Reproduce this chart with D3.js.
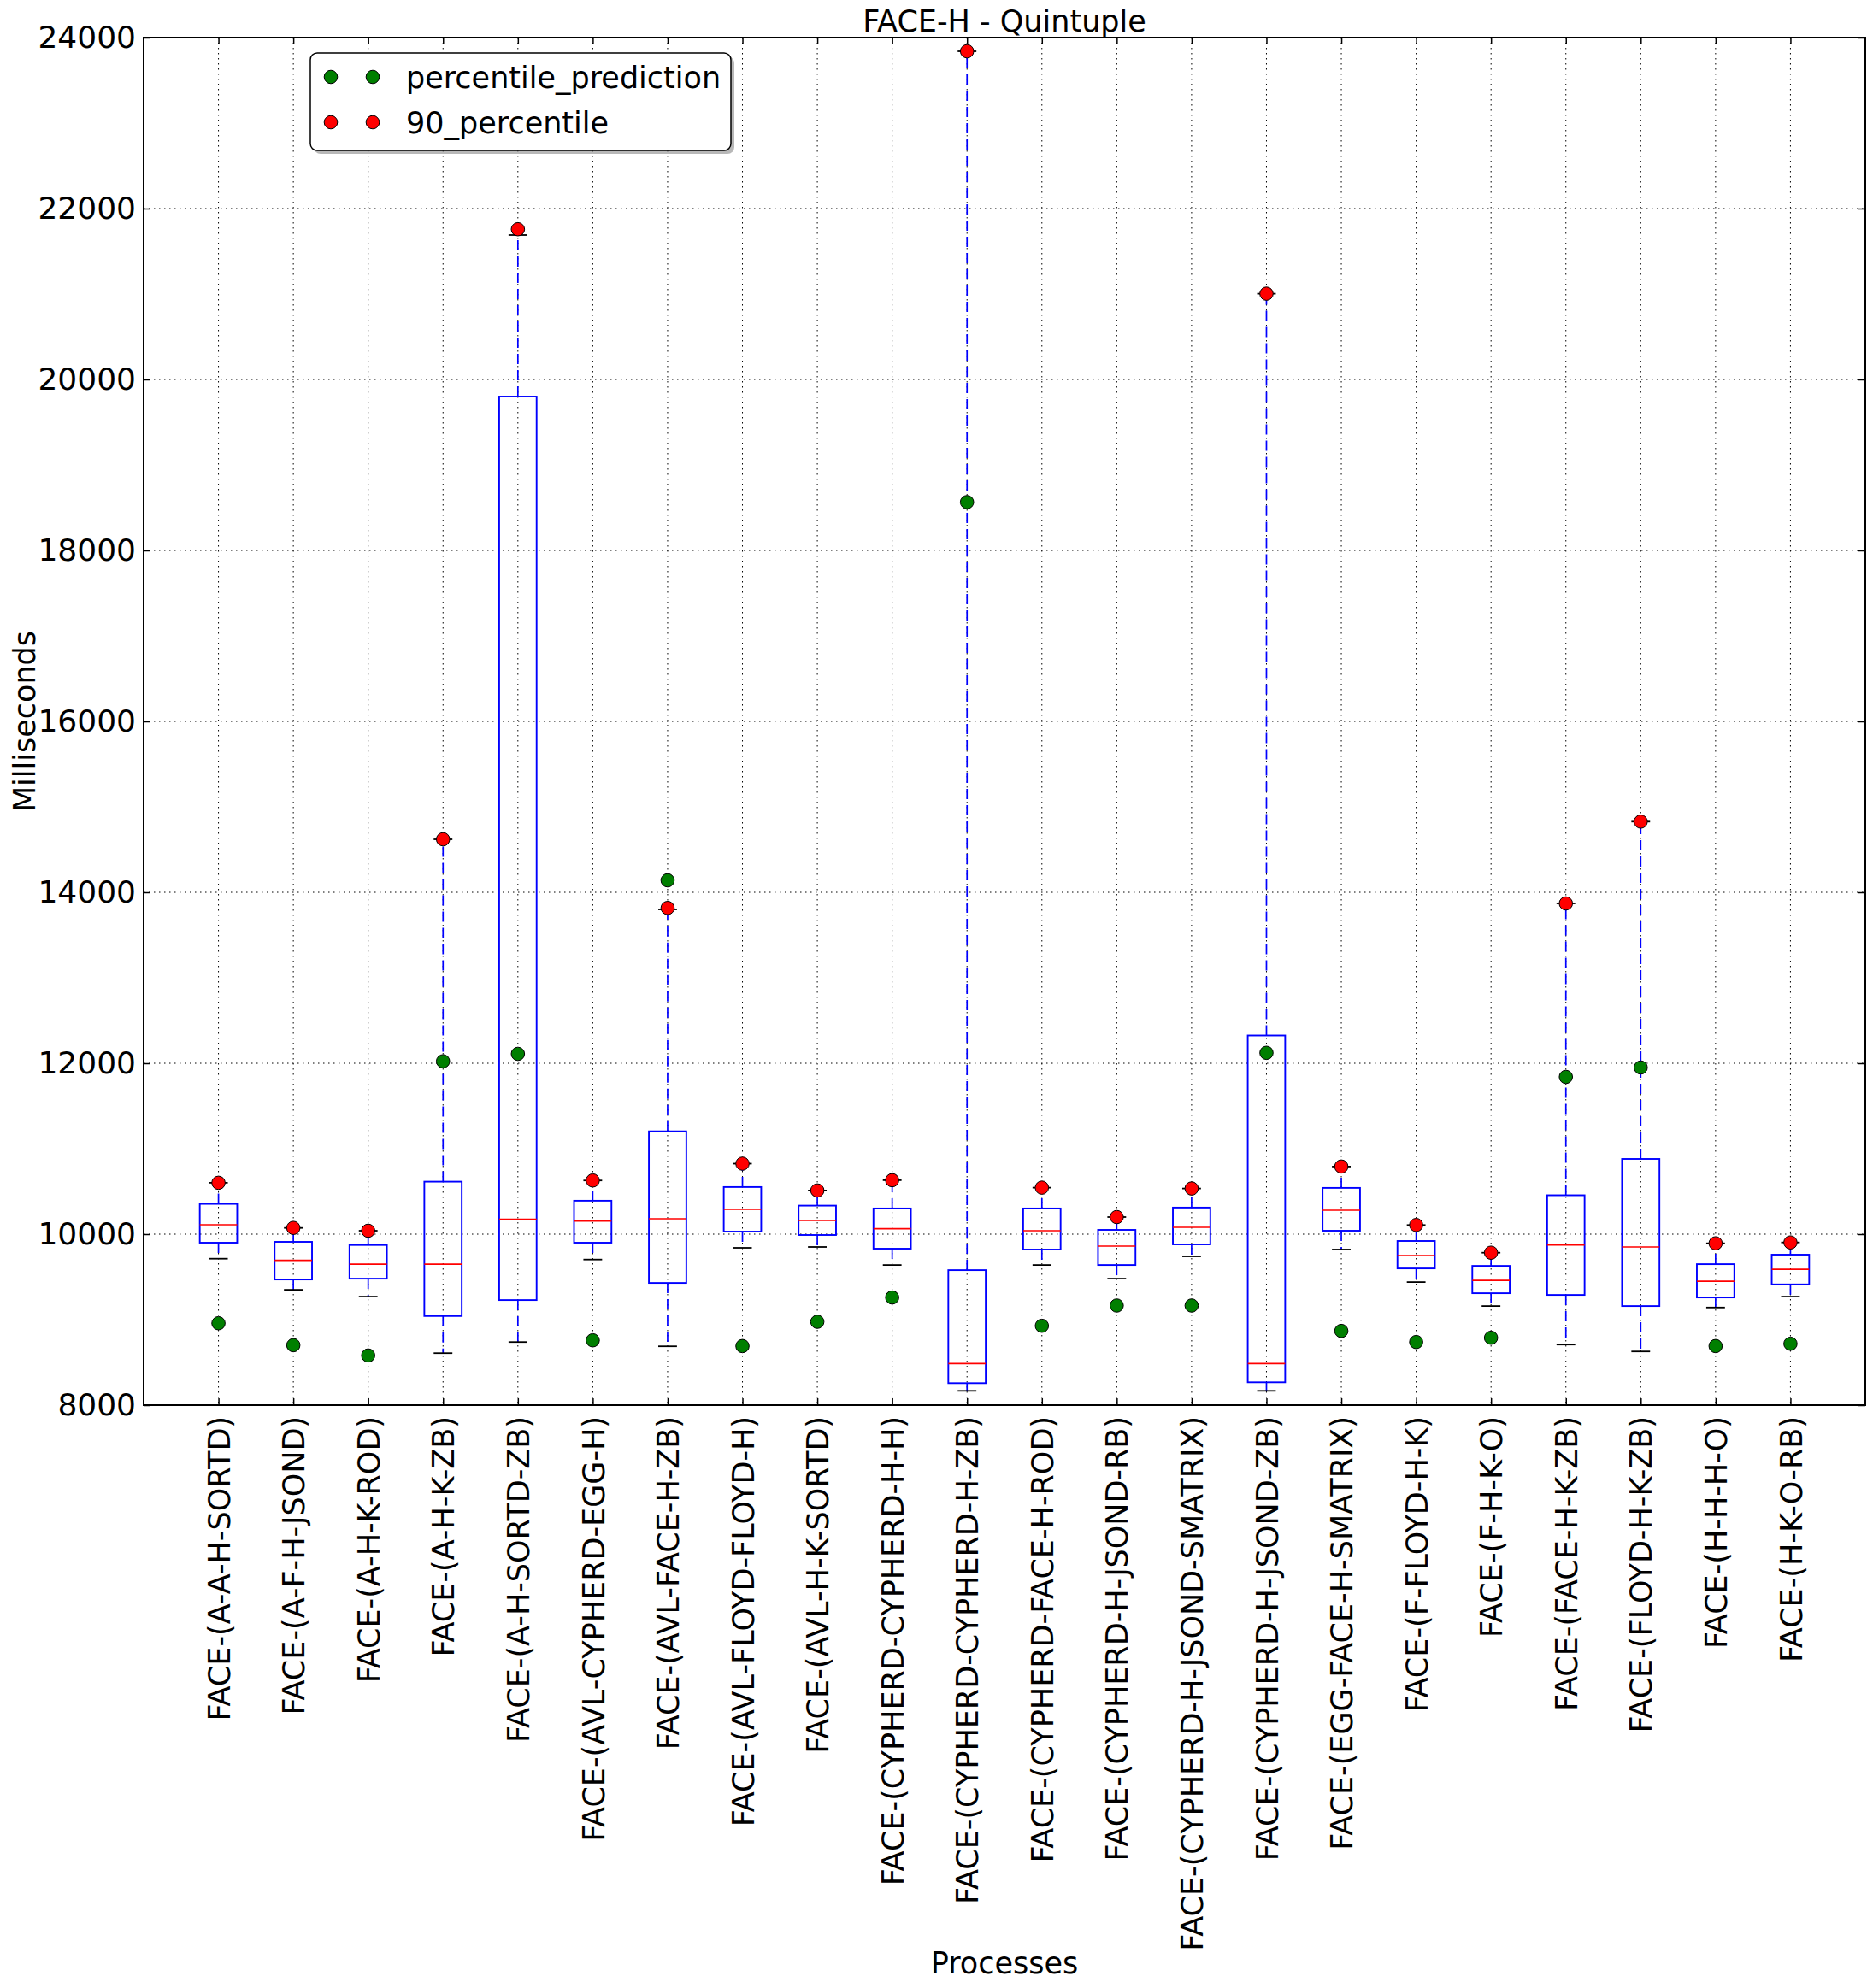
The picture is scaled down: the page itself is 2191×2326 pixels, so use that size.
<!DOCTYPE html>
<html>
<head>
<meta charset="utf-8">
<script src="https://cdn.jsdelivr.net/npm/d3@7"></script>
<style>
  html, body { margin: 0; padding: 0; background: #ffffff; }
  svg { display: block; }
  text { font-family: "DejaVu Sans", sans-serif; fill: #000; }
</style>
</head>
<body>
<svg id="chart" width="2191" height="2326"></svg>
<script>
const categories = [
  "FACE-(A-A-H-SORTD)", "FACE-(A-F-H-JSOND)", "FACE-(A-H-K-ROD)", "FACE-(A-H-K-ZB)",
  "FACE-(A-H-SORTD-ZB)", "FACE-(AVL-CYPHERD-EGG-H)", "FACE-(AVL-FACE-H-ZB)",
  "FACE-(AVL-FLOYD-FLOYD-H)", "FACE-(AVL-H-K-SORTD)", "FACE-(CYPHERD-CYPHERD-H-H)",
  "FACE-(CYPHERD-CYPHERD-H-ZB)", "FACE-(CYPHERD-FACE-H-ROD)", "FACE-(CYPHERD-H-JSOND-RB)",
  "FACE-(CYPHERD-H-JSOND-SMATRIX)", "FACE-(CYPHERD-H-JSOND-ZB)", "FACE-(EGG-FACE-H-SMATRIX)",
  "FACE-(F-FLOYD-H-K)", "FACE-(F-H-K-O)", "FACE-(FACE-H-K-ZB)", "FACE-(FLOYD-H-K-ZB)",
  "FACE-(H-H-H-O)", "FACE-(H-K-O-RB)"
];
const whiskerLow  = [9713, 9349, 9269, 8608, 8738, 9703, 8688, 9840, 9850, 9639, 8167, 9639, 9479, 9740, 8167, 9820, 9439, 9159, 8708, 8628, 9142, 9269];
const q1          = [9900, 9469, 9479, 9042, 9229, 9900, 9429, 10030, 9990, 9830, 8257, 9820, 9639, 9880, 8267, 10040, 9599, 9309, 9289, 9159, 9259, 9412];
const median      = [10110, 9693, 9649, 9649, 10174, 10154, 10180, 10290, 10160, 10063, 8487, 10040, 9860, 10080, 8487, 10280, 9750, 9459, 9873, 9850, 9449, 9589];
const q3          = [10354, 9910, 9873, 10614, 19800, 10391, 11203, 10551, 10334, 10301, 9579, 10301, 10050, 10311, 12325, 10541, 9920, 9629, 10455, 10880, 9649, 9760];
const whiskerHigh = [10601, 10073, 10040, 14620, 21690, 10628, 13800, 10825, 10511, 10631, 23840, 10544, 10200, 10534, 21004, 10791, 10107, 9783, 13870, 14827, 9893, 9903];
const percentile90 = [10601, 10073, 10040, 14620, 21758, 10628, 13817, 10825, 10511, 10631, 23840, 10544, 10200, 10534, 21004, 10791, 10107, 9783, 13870, 14827, 9893, 9903];
const percentilePrediction = [8958, 8701, 8581, 12023, 12110, 8758, 14140, 8691, 8975, 9259, 18565, 8928, 9165, 9165, 12122, 8868, 8738, 8788, 11840, 11950, 8691, 8718];
const yTicks = [8000, 10000, 12000, 14000, 16000, 18000, 20000, 22000, 24000];
const legendLabels = ["percentile_prediction", "90_percentile"];
const legendColors = ["#007f00", "#ff0000"];

const svg = d3.select("#chart");
svg.append("rect").attr("width", 2191).attr("height", 2326).attr("fill", "#fff");

const L = 168, R = 2182, T = 44, B = 1644;
const x = d3.scaleLinear().domain([0, categories.length + 1]).range([L, R]);
const y = d3.scaleLinear().domain([8000, 24000]).range([B, T]);
const pos = categories.map((c, i) => i + 1);
const boxW = x(0.5) - x(0);
const capW = x(0.25) - x(0);

// grid
const grid = svg.append("g");
grid.selectAll(".vg").data(pos).enter().append("line")
  .attr("x1", d => x(d)).attr("x2", d => x(d)).attr("y1", T).attr("y2", B)
  .attr("stroke", "#000").attr("stroke-width", 1).attr("stroke-dasharray", "1.5,4.5");
grid.selectAll(".hg").data(yTicks).enter().append("line")
  .attr("x1", L).attr("x2", R).attr("y1", d => y(d)).attr("y2", d => y(d))
  .attr("stroke", "#000").attr("stroke-width", 1).attr("stroke-dasharray", "1.5,4.5");

// boxes
const boxes = svg.append("g");
categories.forEach((c, i) => {
  const cx = x(pos[i]);
  const g = boxes.append("g");
  g.append("line").attr("x1", cx).attr("x2", cx).attr("y1", y(q3[i])).attr("y2", y(whiskerHigh[i]))
    .attr("stroke", "#0000ff").attr("stroke-width", 1.7).attr("stroke-dasharray", "12,7");
  g.append("line").attr("x1", cx).attr("x2", cx).attr("y1", y(q1[i])).attr("y2", y(whiskerLow[i]))
    .attr("stroke", "#0000ff").attr("stroke-width", 1.7).attr("stroke-dasharray", "12,7");
  [whiskerHigh[i], whiskerLow[i]].forEach(v => {
    g.append("line").attr("x1", cx - capW / 2).attr("x2", cx + capW / 2).attr("y1", y(v)).attr("y2", y(v))
      .attr("stroke", "#000").attr("stroke-width", 1.8);
  });
  g.append("rect").attr("x", cx - boxW / 2).attr("width", boxW)
    .attr("y", y(q3[i])).attr("height", y(q1[i]) - y(q3[i]))
    .attr("fill", "none").attr("stroke", "#0000ff").attr("stroke-width", 1.9);
  g.append("line").attr("x1", cx - boxW / 2).attr("x2", cx + boxW / 2).attr("y1", y(median[i])).attr("y2", y(median[i]))
    .attr("stroke", "#ff0000").attr("stroke-width", 1.7);
});

// points
const pts = svg.append("g");
pts.selectAll(".pp").data(percentilePrediction).enter().append("circle")
  .attr("cx", (d, i) => x(pos[i])).attr("cy", d => y(d)).attr("r", 7.8)
  .attr("fill", legendColors[0]).attr("stroke", "#000").attr("stroke-width", 1);
pts.selectAll(".p90").data(percentile90).enter().append("circle")
  .attr("cx", (d, i) => x(pos[i])).attr("cy", d => y(d)).attr("r", 7.8)
  .attr("fill", legendColors[1]).attr("stroke", "#000").attr("stroke-width", 1);

// axes
const fontSize = 35;
const yAxis = svg.append("g").attr("transform", `translate(${L},0)`)
  .call(d3.axisLeft(y).tickValues(yTicks).tickSize(-8).tickPadding(9).tickFormat(d3.format("d")));
yAxis.select(".domain").remove();
yAxis.selectAll("line").attr("stroke", "#000").attr("stroke-width", 1.5);
yAxis.selectAll("text").style("font-size", "36px").style("font-family", "DejaVu Sans");

const yAxisR = svg.append("g").attr("transform", `translate(${R},0)`)
  .call(d3.axisRight(y).tickValues(yTicks).tickSize(-8).tickFormat(""));
yAxisR.select(".domain").remove();
yAxisR.selectAll("line").attr("stroke", "#000").attr("stroke-width", 1.5);

const xAxisT = svg.append("g").attr("transform", `translate(0,${T})`)
  .call(d3.axisTop(x).tickValues(pos).tickSize(-8).tickFormat(""));
xAxisT.select(".domain").remove();
xAxisT.selectAll("line").attr("stroke", "#000").attr("stroke-width", 1.5);

const xAxis = svg.append("g").attr("transform", `translate(0,${B})`)
  .call(d3.axisBottom(x).tickValues(pos).tickSize(-8).tickFormat(d => categories[d - 1]));
xAxis.select(".domain").remove();
xAxis.selectAll("line").attr("stroke", "#000").attr("stroke-width", 1.5);
xAxis.selectAll("text")
  .attr("transform", "rotate(-90)")
  .attr("x", -13).attr("y", 0).attr("dy", "0.36em")
  .attr("text-anchor", "end")
  .style("font-size", fontSize + "px").style("font-family", "DejaVu Sans");

// frame
svg.append("rect").attr("x", L).attr("y", T).attr("width", R - L).attr("height", B - T)
  .attr("fill", "none").attr("stroke", "#000").attr("stroke-width", 2);

// legend
const lg = svg.append("g");
lg.append("rect").attr("x", 367).attr("y", 66).attr("width", 492).attr("height", 114).attr("rx", 8)
  .attr("fill", "#888").attr("opacity", 0.6);
lg.append("rect").attr("x", 363).attr("y", 62).attr("width", 492).attr("height", 114).attr("rx", 8)
  .attr("fill", "#fff").attr("stroke", "#000").attr("stroke-width", 1.5);
legendLabels.forEach((lab, k) => {
  const ry = 90 + k * 53;
  [387, 436].forEach(mx => {
    lg.append("circle").attr("cx", mx).attr("cy", ry).attr("r", 7.8)
      .attr("fill", legendColors[k]).attr("stroke", "#000").attr("stroke-width", 1);
  });
  lg.append("text").attr("x", 475).attr("y", ry).attr("dy", "0.36em")
    .style("font-size", fontSize + "px").text(lab);
});

// titles
svg.append("text").attr("x", (L + R) / 2).attr("y", 37).attr("text-anchor", "middle")
  .style("font-size", "35px").text("FACE-H - Quintuple");
svg.append("text").attr("x", (L + R) / 2).attr("y", 2309).attr("text-anchor", "middle")
  .style("font-size", fontSize + "px").text("Processes");
svg.append("text").attr("transform", `translate(41,${(T + B) / 2}) rotate(-90)`).attr("text-anchor", "middle")
  .style("font-size", fontSize + "px").text("Milliseconds");
</script>
</body>
</html>
